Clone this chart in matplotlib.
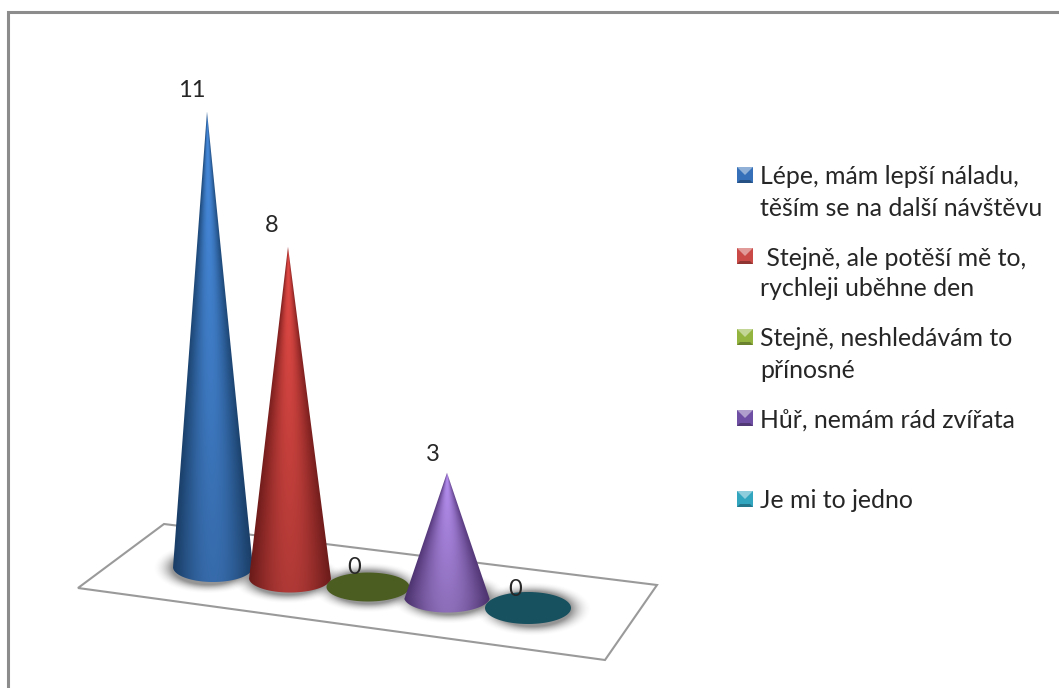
import numpy as np
import matplotlib
matplotlib.use("Agg")
import matplotlib.pyplot as plt
from matplotlib.patches import Polygon, Rectangle
from matplotlib.colors import to_rgb

# Survey answers and counts
categories = [
    ["Lépe, mám lepší náladu,", "těším se na další návštěvu"],
    [" Stejně, ale potěší mě to,", "rychleji uběhne den"],
    ["Stejně, neshledávám to", "přínosné"],
    ["Hůř, nemám rád zvířata"],
    ["Je mi to jedno"],
]
values = [11, 8, 0, 3, 0]

# Series colours: bright core, dark edge, legend key
core_colors = ["#3f7cc6", "#cb423e", "#8fb23a", "#a27fd6", "#2e9fb8"]
edge_colors = ["#1d4674", "#7a1f1e", "#4b5d20", "#533678", "#17505f"]
key_colors = ["#3570b8", "#c94a46", "#93b540", "#6f4fa3", "#32a5bf"]

# Layout on a pixel-sized canvas
W, H = 1059, 688
UNIT = 41.4                              # pixels per answer
base_x = [213, 290, 368, 447, 528]
tip_lean = [-6, -2, 0, 0, 0]             # perspective drift of the apex
base_y = [567, 578, 587, 597, 608]
base_rx = [40, 41, 41.5, 43, 43]
base_ry = [15, 14.5, 14.5, 15.5, 16]
floor_corners = [(78, 588), (164, 524), (657, 585), (605, 660)]
label_pos_dx = [-21, -18, -14, -14, -13]
label_pos_dy = [-21, -21, -19, -18, -19]
legend_x, legend_text_x = 737, 760
legend_keys_y = [175, 256, 337, 418, 499]
line_gap = 31

fig = plt.figure(figsize=(W / 100, H / 100), dpi=100)
ax = fig.add_axes([0, 0, 1, 1])
ax.axis("off")
plt.rcParams["font.family"] = ["Lato", "DejaVu Sans"]


def draw_shadow(cx, cy, rx, ry):
    pad = 24
    xs = np.arange(cx - rx - pad, cx + rx + pad, 1.0)
    ys = np.arange(cy - ry - pad, cy + ry + pad, 1.0)
    X, Y = np.meshgrid(xs, ys)
    sx = cx + (cx - 368) * 0.03
    r = np.hypot((X - sx) / (rx + 7), (Y - cy - 1) / (ry + 7))
    alpha = np.clip((1.2 - r) / 0.42, 0, 1) ** 2 * 0.55
    rgba = np.zeros(X.shape + (4,))
    rgba[..., :3] = 0.25
    rgba[..., 3] = alpha
    ax.imshow(rgba, extent=(xs[0], xs[-1], ys[-1], ys[0]), aspect="auto",
              zorder=2, interpolation="bilinear")


def outline(cx, cy, rx, ry, tip_x, tip_y):
    # Tangent points where the sides of the cone meet the base ellipse
    s = min(ry / (cy - tip_y), 0.99)
    t0 = np.arcsin(s)
    t = np.linspace(t0, np.pi - t0, 80)
    pts = [(cx + rx * np.cos(a), cy + ry * np.sin(a)) for a in t]
    return [(tip_x, tip_y)] + pts


def draw_cone(i, value):
    cx, cy, rx, ry = base_x[i], base_y[i], base_rx[i], base_ry[i]
    if value == 0:
        a = np.linspace(0, 2 * np.pi, 120)
        ax.add_patch(Polygon(np.c_[cx + rx * np.cos(a), cy + ry * np.sin(a)],
                             closed=True, fc=edge_colors[i], ec="none", zorder=3 + i))
        return
    tip_y = cy - value * UNIT
    tip_x = cx + tip_lean[i]
    xs = np.arange(cx - rx - 8, cx + rx + 2, 0.5)
    ys = np.arange(tip_y, cy + ry + 1, 0.5)
    X, Y = np.meshgrid(xs, ys)
    frac = np.clip((Y - tip_y) / (cy - tip_y), 0.002, 1)
    half = np.maximum(rx * frac, 0.1)
    axis_x = tip_x + (cx - tip_x) * frac
    u = np.clip((X - axis_x) / half, -1, 1)
    # Rounded surface lit from the front, brighter towards the tip
    shade = np.clip(np.cos(u * np.pi / 2) ** 1.1, 0, 1)[..., None]
    lift = (0.86 + 0.26 * (1 - (Y - tip_y) / (cy + ry - tip_y)))[..., None]
    core = np.array(to_rgb(core_colors[i]))
    edge = np.array(to_rgb(edge_colors[i]))
    img = np.clip((edge + (core - edge) * shade) * lift, 0, 1)
    im = ax.imshow(img, extent=(xs[0], xs[-1], ys[-1], ys[0]), aspect="auto",
                   zorder=3 + i, interpolation="bilinear")
    clip = Polygon(outline(cx, cy, rx, ry, tip_x, tip_y), closed=True,
                   transform=ax.transData, fc="none", ec="none")
    ax.add_patch(clip)
    im.set_clip_path(clip)


def draw_key(x, y, color):
    # Small bevelled legend square, lit from above
    s = 16
    base = np.array(to_rgb(color))
    light = np.clip(base * 0.55 + 0.45, 0, 1)
    dark = base * 0.72
    y0 = y - s / 2
    m = 3
    ax.add_patch(Rectangle((x, y0), s, s, fc=base, ec="none", zorder=5))
    ax.add_patch(Polygon([(x, y0), (x + s, y0), (x + s / 2, y0 + s / 2)],
                         fc=light, ec="none", zorder=6))
    ax.add_patch(Polygon([(x, y0 + s), (x + s, y0 + s), (x + s - m, y0 + s - m), (x + m, y0 + s - m)],
                         fc=dark, ec="none", zorder=6))


# Chart frame: only the top and left edges fall inside the canvas
ax.plot([8, 8, W], [H, 12, 12], color="#8c8c8c", lw=2.2, zorder=1, solid_joinstyle="miter")

# Floor of the 3-D plot
ax.add_patch(Polygon(floor_corners, closed=True, fc="white", ec="#9a9a9a", lw=1.5, zorder=1))

for i, v in enumerate(values):
    draw_shadow(base_x[i], base_y[i], base_rx[i], base_ry[i])
for i, v in enumerate(values):
    draw_cone(i, v)
    top = base_y[i] - v * UNIT
    ax.text(base_x[i] + label_pos_dx[i], top + label_pos_dy[i], str(v), ha="center",
            va="center", fontsize=17, color="#262626", zorder=20)

for lines, ky, color in zip(categories, legend_keys_y, key_colors):
    draw_key(legend_x, ky, color)
    for j, line in enumerate(lines):
        ax.text(legend_text_x, ky + 2 + j * line_gap, line, ha="left", va="center",
                fontsize=17.9, color="#262626", zorder=20)

ax.set_xlim(0, W)
ax.set_ylim(H, 0)
fig.savefig("out.png", dpi=100, facecolor="white")
